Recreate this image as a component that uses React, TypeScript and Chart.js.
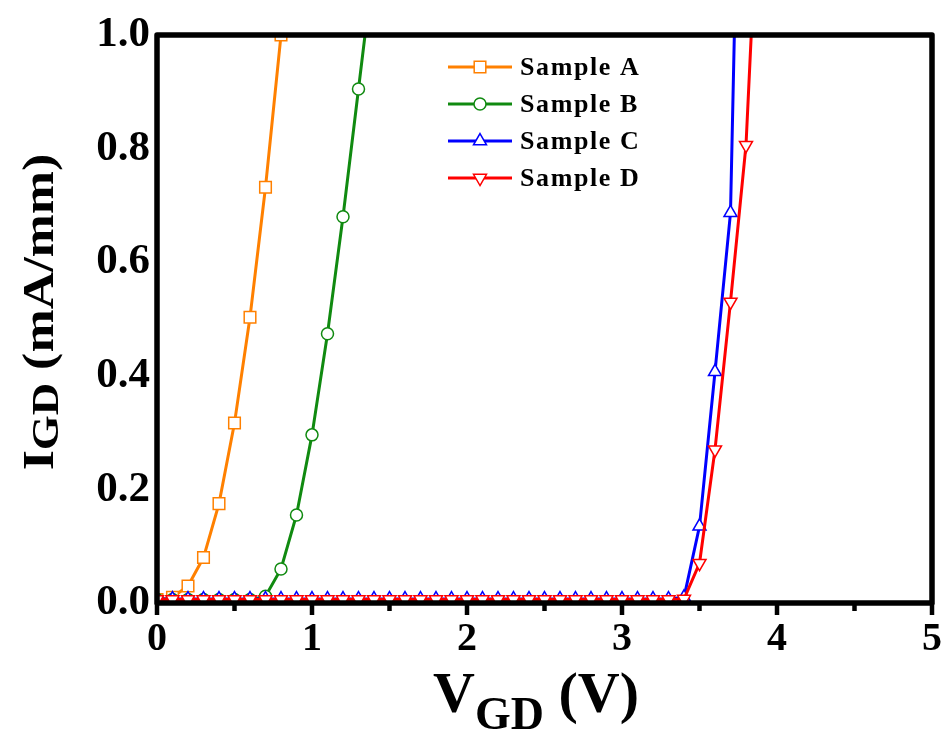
import React, { useEffect, useRef } from 'react';
import { Chart, registerables } from 'chart.js';

Chart.register(...registerables);

const FONT = '"Liberation Serif", "Times New Roman", serif';

const seriesNames = ['Sample A', 'Sample B', 'Sample C', 'Sample D'];
const seriesColors = ['#FF8000', '#108A10', '#0000FF', '#FF0000'];

const xA = [0, 0.1, 0.2, 0.3, 0.4, 0.5, 0.6, 0.7, 0.8];
const yA = [0.006, 0.01, 0.03, 0.08, 0.175, 0.317, 0.503, 0.732, 1.0];

const xB = [0, 0.1, 0.2, 0.3, 0.4, 0.5, 0.6, 0.7, 0.8, 0.9, 1.0, 1.1, 1.2, 1.3, 1.4];
const yB = [0.006, 0.006, 0.006, 0.006, 0.006, 0.006, 0.006, 0.012, 0.06, 0.155, 0.296, 0.474, 0.68, 0.905, 1.13];

const xC = [
  0, 0.1, 0.2, 0.3, 0.4, 0.5, 0.6, 0.7, 0.8, 0.9,
  1.0, 1.1, 1.2, 1.3, 1.4, 1.5, 1.6, 1.7, 1.8, 1.9,
  2.0, 2.1, 2.2, 2.3, 2.4, 2.5, 2.6, 2.7, 2.8, 2.9,
  3.0, 3.1, 3.2, 3.3, 3.4, 3.5, 3.6, 3.7, 3.8,
];
const yC = [
  0.007, 0.007, 0.007, 0.007, 0.007, 0.007, 0.007, 0.007, 0.007, 0.007,
  0.007, 0.007, 0.007, 0.007, 0.007, 0.007, 0.007, 0.007, 0.007, 0.007,
  0.007, 0.007, 0.007, 0.007, 0.007, 0.007, 0.007, 0.007, 0.007, 0.007,
  0.007, 0.007, 0.007, 0.007, 0.01, 0.135, 0.407, 0.687, 1.95,
];

const xD = [
  0, 0.1, 0.2, 0.3, 0.4, 0.5, 0.6, 0.7, 0.8, 0.9,
  1.0, 1.1, 1.2, 1.3, 1.4, 1.5, 1.6, 1.7, 1.8, 1.9,
  2.0, 2.1, 2.2, 2.3, 2.4, 2.5, 2.6, 2.7, 2.8, 2.9,
  3.0, 3.1, 3.2, 3.3, 3.4, 3.5, 3.6, 3.7, 3.8, 3.9,
];
const yD = [
  0.006, 0.006, 0.006, 0.006, 0.006, 0.006, 0.006, 0.006, 0.006, 0.006,
  0.006, 0.006, 0.006, 0.006, 0.006, 0.006, 0.006, 0.006, 0.006, 0.006,
  0.006, 0.006, 0.006, 0.006, 0.006, 0.006, 0.006, 0.006, 0.006, 0.006,
  0.006, 0.006, 0.006, 0.006, 0.007, 0.07, 0.27, 0.53, 0.806, 1.38,
];

const xTicks = [0, 1, 2, 3, 4, 5];
const xMinorTicks = [0.5, 1.5, 2.5, 3.5, 4.5];
const yTicks = [0, 0.2, 0.4, 0.6, 0.8, 1.0];

const pointStyles = ['rect', 'circle', 'triangle', 'triangle'];
const pointRotations = [0, 0, 0, 180];
const pointRadii = [8.2, 6, 7.5, 7.5];

function toPoints(xs: number[], ys: number[]) {
  return xs.map((x, i) => ({ x, y: ys[i] }));
}

function drawMarker(ctx: CanvasRenderingContext2D, i: number, x: number, y: number) {
  const r = pointRadii[i];
  ctx.save();
  ctx.fillStyle = '#ffffff';
  ctx.strokeStyle = seriesColors[i];
  ctx.lineWidth = 1.5;
  ctx.beginPath();
  if (i === 0) {
    const s = r * Math.SQRT1_2;
    ctx.rect(x - s, y - s, 2 * s, 2 * s);
  } else if (i === 1) {
    ctx.arc(x, y, r, 0, Math.PI * 2);
  } else {
    const dir = i === 2 ? 1 : -1;
    for (let k = 0; k < 3; k++) {
      const a = (k * 2 * Math.PI) / 3;
      const px = x + Math.sin(a) * r;
      const py = y - dir * Math.cos(a) * r;
      if (k === 0) ctx.moveTo(px, py);
      else ctx.lineTo(px, py);
    }
    ctx.closePath();
  }
  ctx.fill();
  ctx.stroke();
  ctx.restore();
}

const framePlugin = {
  id: 'framePlugin',
  afterDatasetsDraw(chart: any) {
    const { ctx, chartArea } = chart;
    const { left, right, top, bottom } = chartArea;
    const xs = chart.scales.x;
    ctx.save();
    ctx.strokeStyle = '#000';
    ctx.lineWidth = 5.5;
    ctx.lineJoin = 'round';
    ctx.strokeRect(left, top, right - left, bottom - top);
    ctx.lineWidth = 4.5;
    ctx.lineCap = 'butt';
    xTicks.forEach((v) => {
      const px = xs.getPixelForValue(v);
      ctx.beginPath();
      ctx.moveTo(px, bottom);
      ctx.lineTo(px, bottom + 12);
      ctx.stroke();
    });
    xMinorTicks.forEach((v) => {
      const px = xs.getPixelForValue(v);
      ctx.beginPath();
      ctx.moveTo(px, bottom);
      ctx.lineTo(px, bottom + 8);
      ctx.stroke();
    });
    ctx.restore();

    // legend
    ctx.save();
    seriesNames.forEach((name, i) => {
      const y = 67 + i * 37;
      ctx.strokeStyle = seriesColors[i];
      ctx.lineWidth = 3;
      ctx.beginPath();
      ctx.moveTo(448, y);
      ctx.lineTo(512, y);
      ctx.stroke();
      drawMarker(ctx, i, 480, y);
      ctx.fillStyle = '#000';
      ctx.font = `bold 26px ${FONT}`;
      (ctx as any).letterSpacing = '1.6px';
      ctx.textBaseline = 'middle';
      ctx.textAlign = 'left';
      ctx.fillText(name, 520, y + 1);
      (ctx as any).letterSpacing = '0px';
    });
    ctx.restore();
  },
  afterDraw(chart: any) {
    const { ctx } = chart;
    // x title: V_GD (V)
    ctx.save();
    ctx.fillStyle = '#000';
    ctx.textBaseline = 'alphabetic';
    ctx.textAlign = 'left';
    const mainX = `bold 58px ${FONT}`;
    const subX = `bold 46px ${FONT}`;
    ctx.font = mainX;
    const wV = ctx.measureText('V').width;
    const wP = ctx.measureText(' (V)').width;
    ctx.font = subX;
    const wG = ctx.measureText('GD').width;
    const x0 = 536 - (wV + wG + wP) / 2;
    ctx.font = mainX;
    ctx.fillText('V', x0, 712);
    ctx.font = subX;
    ctx.fillText('GD', x0 + wV, 729);
    ctx.font = mainX;
    ctx.fillText(' (V)', x0 + wV + wG, 712);
    ctx.restore();

    // y title: I_GD (mA/mm)
    ctx.save();
    ctx.fillStyle = '#000';
    ctx.textBaseline = 'alphabetic';
    ctx.textAlign = 'left';
    ctx.translate(53, 312);
    ctx.rotate(-Math.PI / 2);
    ctx.scale(1.18, 1);
    const mainY = `bold 44px ${FONT}`;
    const subY = `bold 38px ${FONT}`;
    ctx.font = mainY;
    const wI = ctx.measureText('I').width;
    const wR = ctx.measureText(' (mA/mm)').width;
    ctx.font = subY;
    const wS = ctx.measureText('GD').width;
    const s0 = -(wI + wS + wR) / 2;
    ctx.font = mainY;
    ctx.fillText('I', s0, 0);
    ctx.font = subY;
    ctx.fillText('GD', s0 + wI, 5);
    ctx.font = mainY;
    ctx.fillText(' (mA/mm)', s0 + wI + wS, 0);
    ctx.restore();
  },
};

export default function App() {
  const canvasRef = useRef<HTMLCanvasElement | null>(null);

  useEffect(() => {
    document.body.style.margin = '0';
    const canvas = canvasRef.current;
    if (!canvas) return;
    const seriesX = [xA, xB, xC, xD];
    const seriesY = [yA, yB, yC, yD];
    const datasets = seriesNames.map((name, i) => ({
      label: name,
      data: toPoints(seriesX[i], seriesY[i]),
      borderColor: seriesColors[i],
      backgroundColor: '#ffffff',
      borderWidth: 3,
      pointStyle: pointStyles[i],
      rotation: pointRotations[i],
      pointRadius: pointRadii[i],
      pointBorderWidth: 1.5,
      pointBorderColor: seriesColors[i],
      pointBackgroundColor: '#ffffff',
      tension: 0,
      order: 3 - i,
    }));

    const chart = new Chart(canvas, {
      type: 'line',
      data: { datasets },
      plugins: [framePlugin],
      options: {
        animation: false,
        responsive: false,
        maintainAspectRatio: false,
        devicePixelRatio: 1,
        layout: { padding: { top: 35, right: 12, left: 0, bottom: 0 } },
        plugins: {
          legend: { display: false },
          tooltip: { enabled: false },
          title: { display: false },
        },
        scales: {
          x: {
            type: 'linear',
            min: 0,
            max: 5,
            afterFit: (scale: any) => {
              scale.height = 135;
              scale.paddingLeft = 0;
              scale.paddingRight = 0;
            },
            afterBuildTicks: (scale: any) => {
              scale.ticks = xTicks.map((v) => ({ value: v }));
            },
            ticks: {
              color: '#000',
              padding: 13,
              font: { family: FONT, weight: 'bold', size: 40 },
              callback: (v: any) => String(v),
              maxRotation: 0,
            },
            grid: { display: false, drawTicks: false },
            border: { display: false },
          },
          y: {
            type: 'linear',
            min: 0,
            max: 1,
            afterFit: (scale: any) => {
              scale.width = 157;
              scale.paddingTop = 0;
              scale.paddingBottom = 0;
            },
            afterBuildTicks: (scale: any) => {
              scale.ticks = yTicks.map((v) => ({ value: v }));
            },
            ticks: {
              color: '#000',
              padding: 7,
              font: { family: FONT, weight: 'bold', size: 43 },
              callback: (v: any) => Number(v).toFixed(1),
            },
            grid: { display: false, drawTicks: false },
            border: { display: false },
          },
        },
      },
    } as any);

    return () => {
      chart.destroy();
    };
  }, []);

  return (
    <div style={{ position: 'absolute', left: 0, top: 0, width: 944, height: 738, background: '#fff' }}>
      <canvas ref={canvasRef} width={944} height={738} style={{ width: 944, height: 738, display: 'block' }} />
    </div>
  );
}
